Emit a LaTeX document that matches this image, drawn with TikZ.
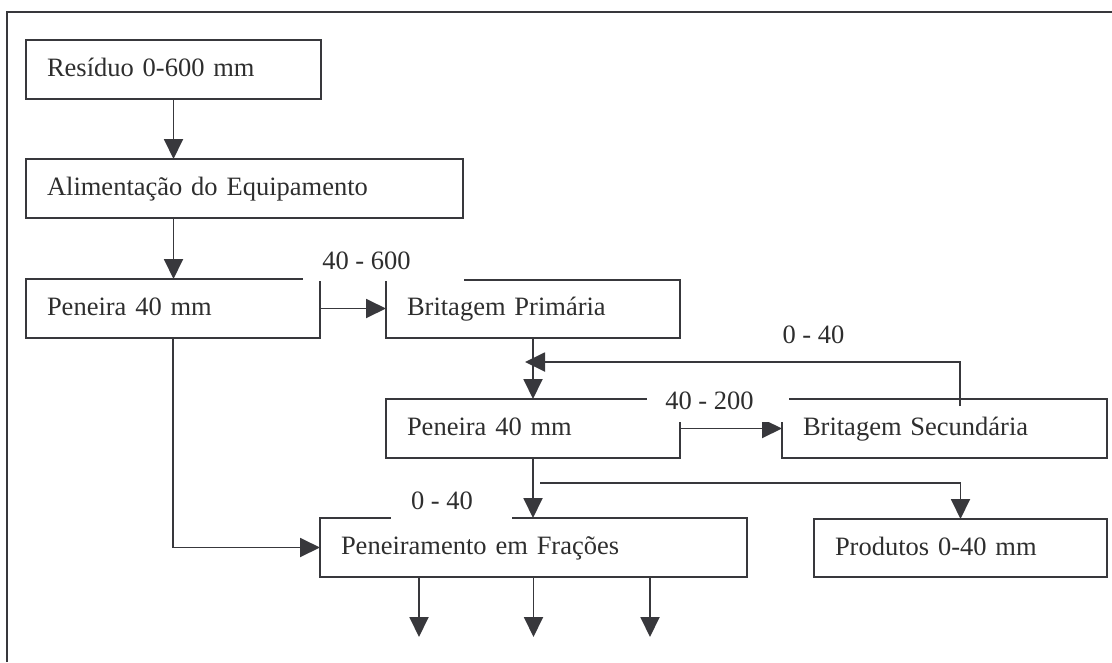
\documentclass[tikz,border=0pt]{standalone}
\usepackage{fontspec}
\setmainfont{Liberation Serif}
\usetikzlibrary{arrows.meta,calc}
\definecolor{ln}{HTML}{38383C}
\definecolor{tx}{HTML}{2E2E2E}
\begin{document}
\begin{tikzpicture}[x=1pt,y=-1pt,
  font=\fontsize{26.5}{30}\selectfont, text=tx,
  flowbox/.style={draw=ln, line width=1.9pt, rectangle, anchor=north west,
    inner xsep=21pt, inner ysep=0pt, outer sep=0pt, align=left,
    text height=36pt, text depth=23pt},
  arr/.style={draw=ln, line width=1.9pt, -{Triangle[length=20pt,width=19pt]}},
  lbl/.style={anchor=base, inner sep=0pt}]
\useasboundingbox (0,0) rectangle (1112,662);
% outer frame (top and left only visible)
\draw[ln, line width=1.9pt] (7,662) -- (7,12) -- (1112,12);
% boxes
\node[flowbox, text width=253pt] (b1) at (26,40) {Resíduo 0-600 mm};
\node[flowbox, text width=395pt] (b2) at (26,159) {Alimentação do Equipamento};
\node[flowbox, text width=252pt] (b3) at (26,279) {Peneira 40 mm};
\node[flowbox, text width=252pt, text height=35pt, text depth=23pt] (b4) at (386,280) {Britagem Primária};
\node[flowbox, text width=252pt] (b5) at (386,399) {Peneira 40 mm};
\node[flowbox, text width=283pt] (b6) at (782,399) {Britagem Secundária};
\node[flowbox, text width=385pt] (b7) at (320,518) {Peneiramento em Frações};
\node[flowbox, text width=251pt, text height=36pt, text depth=22pt] (b8) at (814,519) {Produtos 0-40 mm};
% free ends
\coordinate (fbtip) at (525,362);
\coordinate (fbtop) at (960,362);
\coordinate (split) at (540,483);
\coordinate (o1) at (419,637);
\coordinate (o2) at (533.5,637);
\coordinate (o3) at (650,637);
% connectors
\draw[arr] (b1.south -| 173.5,0) -- (b2.north -| 173.5,0);
\draw[arr] (b2.south -| 173.5,0) -- (b3.north -| 173.5,0);
\draw[arr] (b3.east) -- (b3.east -| b4.west);
\draw[arr] (b3.south) |- (b7.west);
\draw[arr] (b4.south) -- (b4.south |- b5.north);
\draw[arr] ($(b6.north west)+(178,7)$) -- (fbtop) -- (fbtip);
\draw[arr] (b5.east) -- (b5.east -| b6.west);
\draw[arr] (b5.south) -- (b5.south |- b7.north);
\draw[arr] (split) -| (b8.north);
\draw[arr] (b7.south -| o1) -- (o1);
\draw[arr] (b7.south -| o2) -- (o2);
\draw[arr] (b7.south -| o3) -- (o3);
% label backgrounds covering lines
\fill[white] (303,240) rectangle (464,280.9);
\fill[white] (647,385) rectangle (789,422);
\fill[white] (391,490) rectangle (512,519.9);
% labels
\node[lbl] (l1) at (366.5,269) {40 - 600};
\node[lbl] (l2) at (709.5,409) {40 - 200};
\node[lbl] (l3) at (813.5,343) {0 - 40};
\node[lbl] (l4) at (442,509) {0 - 40};
\end{tikzpicture}
\end{document}
